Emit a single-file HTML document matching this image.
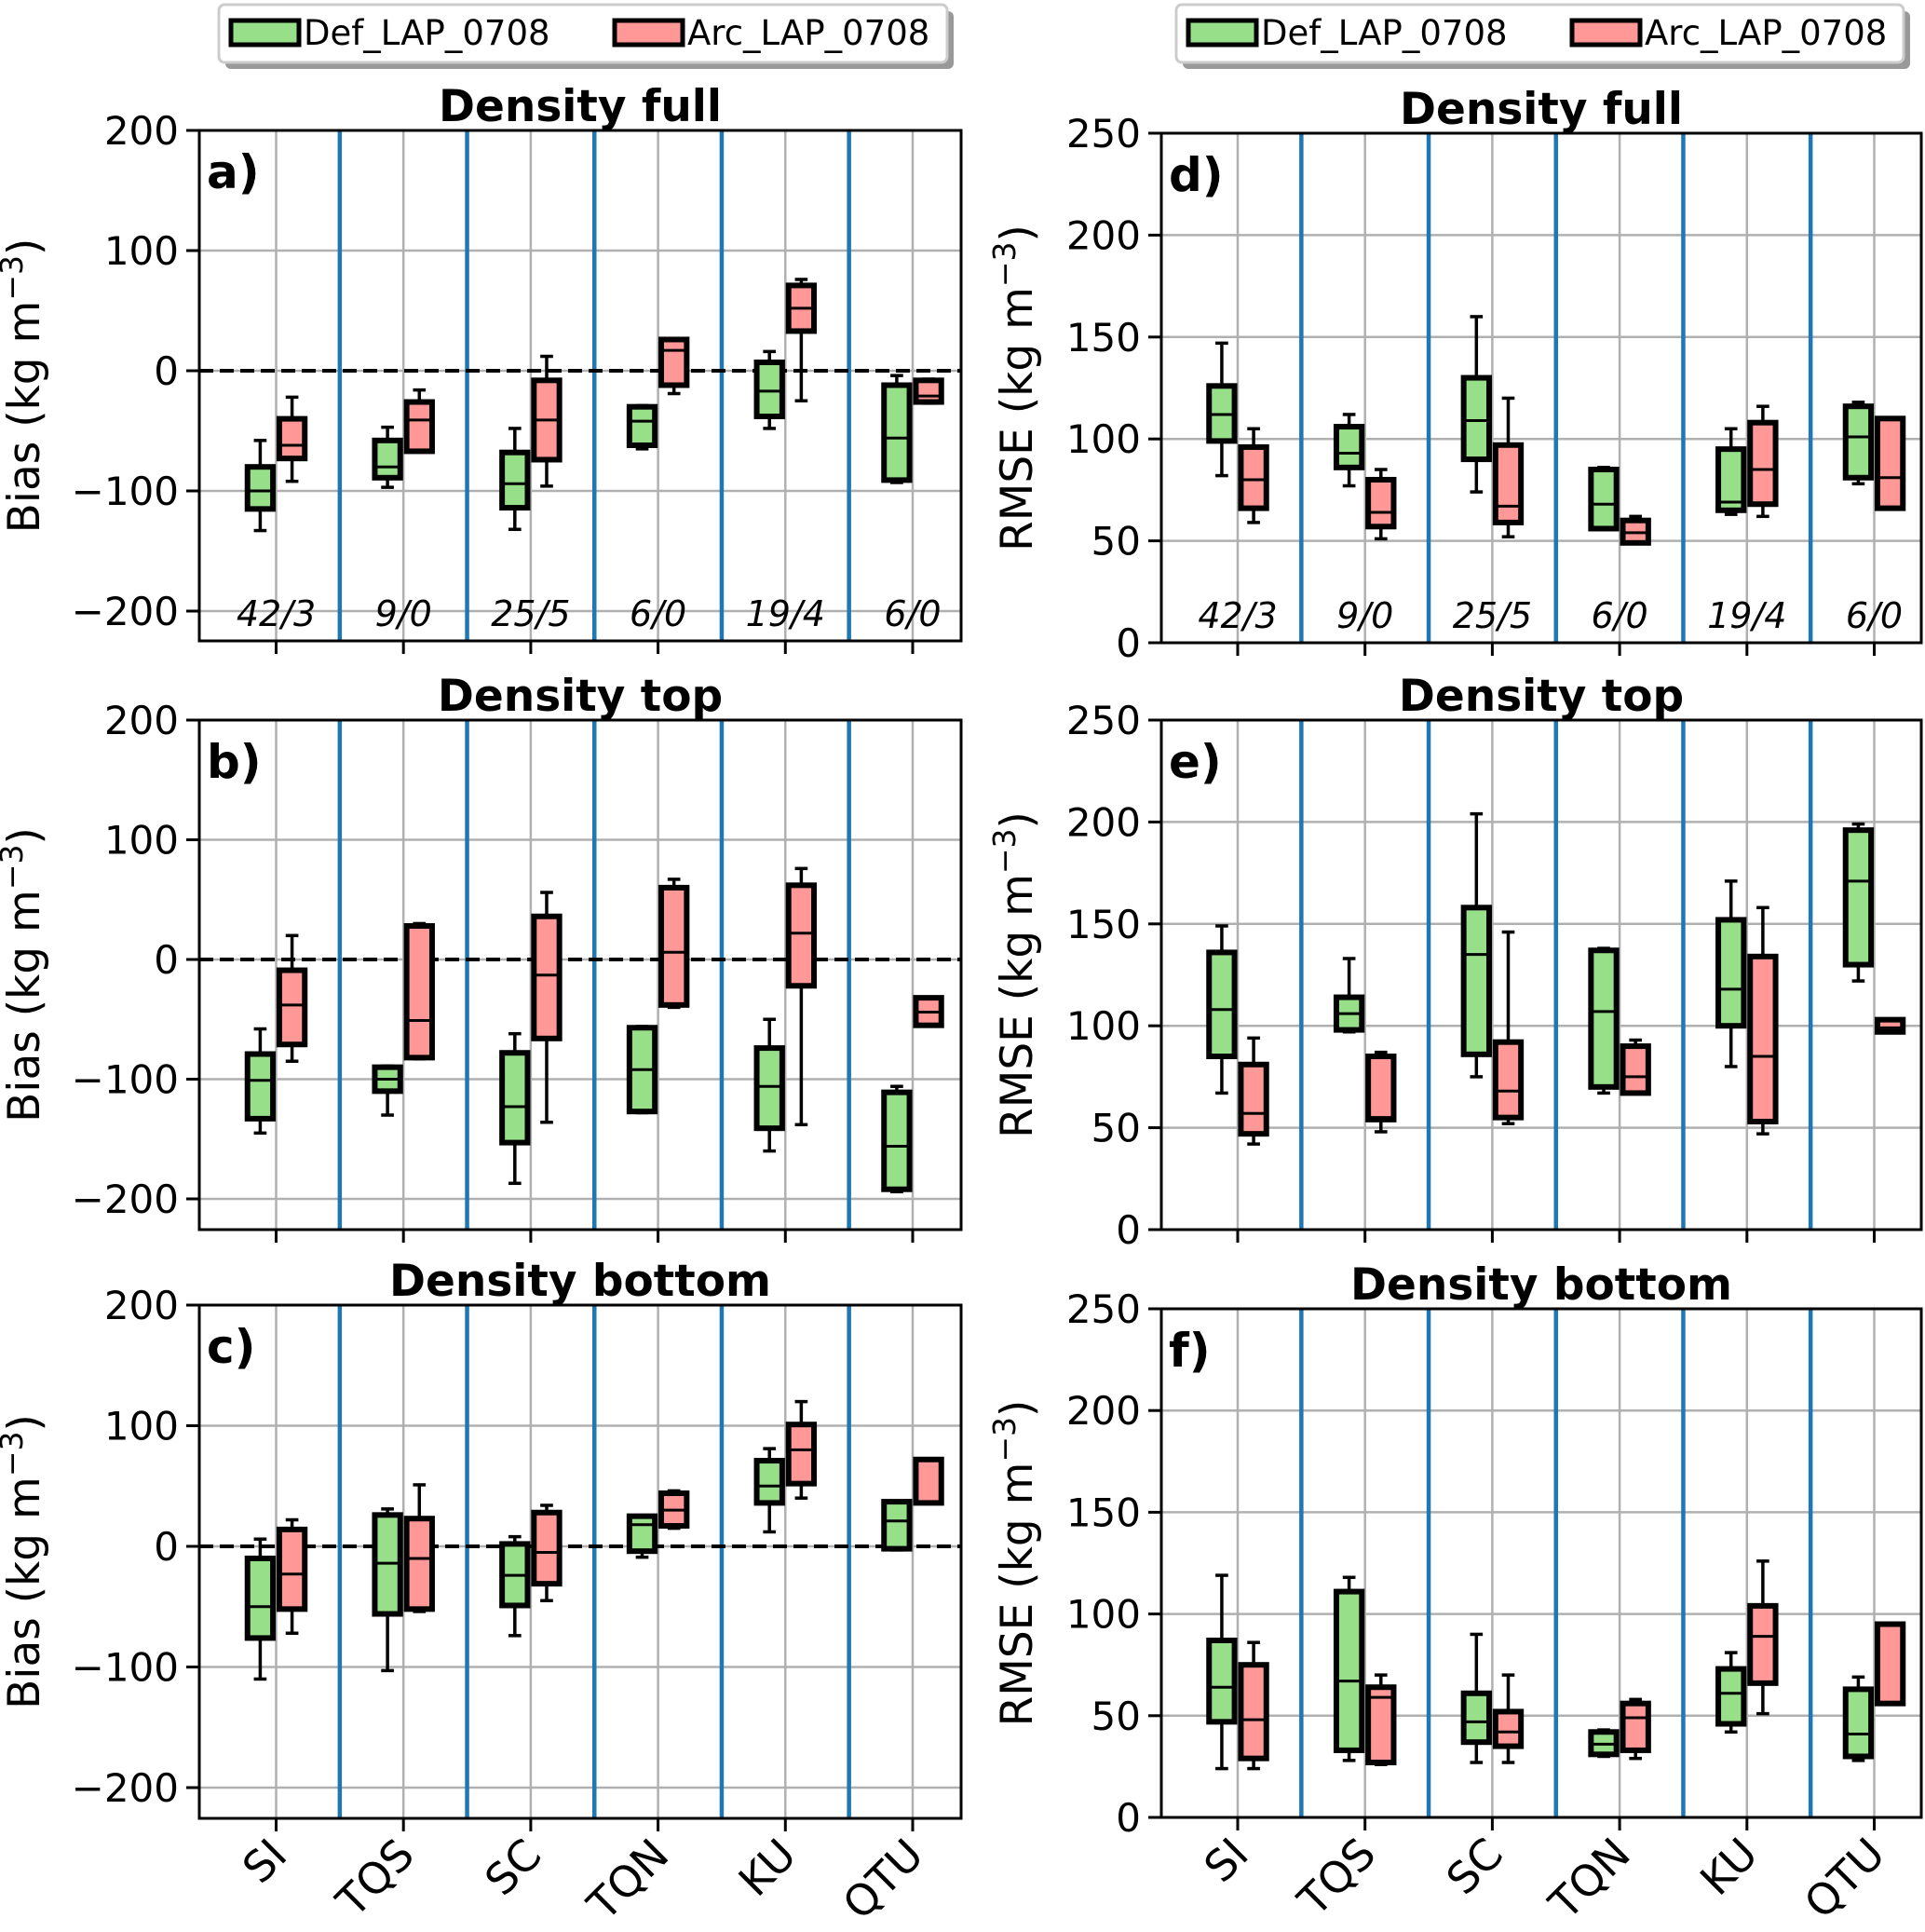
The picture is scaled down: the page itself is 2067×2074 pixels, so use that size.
<!DOCTYPE html>
<html><head><meta charset="utf-8"><style>
html,body{margin:0;padding:0;background:#fff}
svg{display:block}
text{font-family:"DejaVu Sans","Liberation Sans",sans-serif;fill:#000}
</style></head><body>
<svg id="fig" width="2067" height="2074" viewBox="0 0 2067 2074" xmlns="http://www.w3.org/2000/svg">
<g id="legends"></g>
</svg>
<script>
const categories = ["SI","TQS","SC","TQN","KU","QTU"];
const counts = ["42/3","9/0","25/5","6/0","19/4","6/0"];
const biasTicks = [-200,-100,0,100,200];
const rmseTicks = [0,50,100,150,200,250];
// each box: [whiskerLow, q1, median, q3, whiskerHigh]
const aDef = [[-133,-115,-100,-80,-58],[-97,-89,-80,-58,-47],[-132,-114,-94,-68,-48],[-65,-62,-42,-30,-29],[-48,-38,-17,7,16],[-93,-91,-56,-12,-4]];
const aArc = [[-92,-73,-62,-40,-22],[-67,-67,-41,-26,-16],[-96,-74,-41,-8,12],[-19,-12,17,26,26],[-25,33,52,71,76],[-27,-26,-21,-8,-7]];
const bDef = [[-145,-133,-101,-79,-58],[-130,-110,-100,-90,-89],[-187,-153,-123,-78,-62],[-128,-127,-92,-57,-56],[-160,-141,-106,-74,-50],[-194,-192,-156,-111,-106]];
const bArc = [[-85,-71,-38,-9,20],[-83,-82,-51,28,30],[-136,-66,-13,36,56],[-40,-38,6,60,67],[-138,-22,22,62,76],[-55,-55,-44,-32,-32]];
const cDef = [[-110,-76,-50,-10,6],[-103,-56,-14,26,31],[-74,-49,-24,2,8],[-9,-4,18,25,25],[12,36,50,71,81],[-3,-2,21,37,37]];
const cArc = [[-72,-52,-23,14,22],[-54,-52,-10,23,51],[-45,-31,-5,28,34],[15,17,30,44,46],[40,52,80,101,120],[36,36,72,72,72]];
const dDef = [[82,99,112,126,147],[77,86,93,106,112],[74,90,109,130,160],[56,56,68,85,86],[63,65,69,95,105],[78,81,101,116,118]];
const dArc = [[59,66,80,96,105],[51,57,64,80,85],[52,59,67,97,120],[49,49,54,60,62],[62,68,85,108,116],[66,66,81,110,110]];
const eDef = [[67,85,108,136,149],[97,98,106,114,133],[75,86,135,158,204],[67,70,107,137,138],[80,100,118,152,171],[122,130,171,196,199]];
const eArc = [[42,47,57,81,94],[48,54,55,85,87],[52,55,68,92,146],[67,67,75,90,93],[47,53,85,134,158],[97,97,99,103,103]];
const fDef = [[24,47,64,87,119],[28,33,67,111,118],[27,37,47,61,90],[30,31,36,42,43],[42,46,61,73,81],[28,30,41,63,69]];
const fArc = [[24,29,48,75,86],[26,27,59,64,70],[27,35,42,52,70],[29,33,49,56,58],[51,66,89,104,126],[56,56,95,95,95]];

const NS="http://www.w3.org/2000/svg";
const svg=document.getElementById('fig');
function mk(tag,attrs,parent){const e=document.createElementNS(NS,tag);for(const k in attrs)e.setAttribute(k,attrs[k]);(parent||svg).appendChild(e);return e;}

const panels=[
 {id:'a',title:'Density full',L:214,R:1032,c0:296.5,step:136.7,top:140,vTop:200,pxRef:656,vRef:-200,bottom:688,ticks:biasTicks,lab:'Bias',def:aDef,arc:aArc,counts:true,zero:true,xl:false,ylx:42},
 {id:'b',title:'Density top',L:214,R:1032,c0:296.5,step:136.7,top:773,vTop:200,pxRef:1287,vRef:-200,bottom:1320,ticks:biasTicks,lab:'Bias',def:bDef,arc:bArc,counts:false,zero:true,xl:false,ylx:42},
 {id:'c',title:'Density bottom',L:214,R:1032,c0:296.5,step:136.7,top:1401,vTop:200,pxRef:1919,vRef:-200,bottom:1952,ticks:biasTicks,lab:'Bias',def:cDef,arc:cArc,counts:false,zero:true,xl:true,ylx:42},
 {id:'d',title:'Density full',L:1247,R:2063,c0:1329,step:136.7,top:143,vTop:250,pxRef:690,vRef:0,bottom:690,ticks:rmseTicks,lab:'RMSE',def:dDef,arc:dArc,counts:true,zero:false,xl:false,ylx:1108},
 {id:'e',title:'Density top',L:1247,R:2063,c0:1329,step:136.7,top:773,vTop:250,pxRef:1320,vRef:0,bottom:1320,ticks:rmseTicks,lab:'RMSE',def:eDef,arc:eArc,counts:false,zero:false,xl:false,ylx:1108},
 {id:'f',title:'Density bottom',L:1247,R:2063,c0:1329,step:136.7,top:1405,vTop:250,pxRef:1951,vRef:0,bottom:1951,ticks:rmseTicks,lab:'RMSE',def:fDef,arc:fArc,counts:false,zero:false,xl:true,ylx:1108}
];

panels.forEach(p=>{
 const g=mk('g',{});
 
 
 const y=v=>p.top+(p.vTop-v)*(p.pxRef-p.top)/(p.vTop-p.vRef);
 const x=i=>p.c0+i*p.step;
 p.ticks.forEach(t=>{const l=mk('line',{x1:p.L,x2:p.R,y1:y(t),y2:y(t),stroke:'#b0b0b0','stroke-width':2.5},g);
  });
 categories.forEach((c,i)=>{const l=mk('line',{x1:x(i),x2:x(i),y1:p.top,y2:p.bottom,stroke:'#b0b0b0','stroke-width':2.5},g);
  });
 for(let i=0;i<categories.length-1;i++){const l=mk('line',{x1:x(i+0.5),x2:x(i+0.5),y1:p.top,y2:p.bottom,stroke:'#1f77b4','stroke-width':4.5},g);
  }
 if(p.zero){const l=mk('line',{x1:p.L,x2:p.R,y1:y(0),y2:y(0),stroke:'#000','stroke-width':4,'stroke-dasharray':'15,7'},g);
  }
 const bw=0.2*p.step;
 [[p.def,-0.125,'#98df8a','def'],[p.arc,0.125,'#ff9896','arc']].forEach(([arr,off,col,nm])=>{
  arr.forEach((b,i)=>{
   const cx=x(i+off);
   const bg=mk('g',{},g);
   
   
   mk('line',{x1:cx,x2:cx,y1:y(b[0]),y2:y(b[1]),stroke:'#000','stroke-width':3.5},bg);
   mk('line',{x1:cx,x2:cx,y1:y(b[3]),y2:y(b[4]),stroke:'#000','stroke-width':3.5},bg);
   mk('line',{x1:cx-bw/4,x2:cx+bw/4,y1:y(b[0]),y2:y(b[0]),stroke:'#000','stroke-width':3.5},bg);
   mk('line',{x1:cx-bw/4,x2:cx+bw/4,y1:y(b[4]),y2:y(b[4]),stroke:'#000','stroke-width':3.5},bg);
   mk('rect',{x:cx-bw/2,y:y(b[3]),width:bw,height:Math.max(1,y(b[1])-y(b[3])),fill:col,stroke:'#000','stroke-width':6},bg);
   mk('line',{x1:cx-bw/2,x2:cx+bw/2,y1:y(b[2]),y2:y(b[2]),stroke:'#000','stroke-width':3},bg);
  });
 });
 const fr=mk('rect',{x:p.L,y:p.top,width:p.R-p.L,height:p.bottom-p.top,fill:'none',stroke:'#000','stroke-width':3},g);
 
 p.ticks.forEach(t=>{
  mk('line',{x1:p.L-14,x2:p.L,y1:y(t),y2:y(t),stroke:'#000','stroke-width':3},g);
  const tx=mk('text',{x:p.L-22,y:y(t)+15,'text-anchor':'end','font-size':42},g);
  tx.textContent=(t<0?'\u2212'+(-t):String(t));
  
 });
 categories.forEach((c,i)=>{
  mk('line',{x1:x(i),x2:x(i),y1:p.bottom,y2:p.bottom+14,stroke:'#000','stroke-width':3},g);
  if(p.xl){const tx=mk('text',{x:0,y:0,'text-anchor':'end','font-size':46,transform:`translate(${x(i)+14},${p.bottom+42}) rotate(-45)`},g);
   tx.textContent=c;}
  if(p.counts){const tx=mk('text',{x:x(i),y:p.bottom-16,'text-anchor':'middle','font-size':38,'font-style':'italic'},g);
   tx.textContent=counts[i];}
 });
 const tt=mk('text',{x:(p.L+p.R)/2,y:p.top-10,'text-anchor':'middle','font-size':47,'font-weight':'bold'},g);
 tt.textContent=p.title;
 const pl=mk('text',{x:p.L+8,y:p.top+62,'font-size':50,'font-weight':'bold'},g);
 pl.textContent=p.id+')';
 const cy=(p.top+p.bottom)/2;
 const yl=mk('text',{x:0,y:0,'text-anchor':'middle','font-size':47,transform:`translate(${p.ylx},${cy}) rotate(-90)`},g);
 
 yl.appendChild(document.createTextNode(p.lab+' (kg m'));
 const sp=document.createElementNS(NS,'tspan');sp.setAttribute('dy','-18');sp.setAttribute('font-size','33');sp.textContent='\u22123';yl.appendChild(sp);
 const sp2=document.createElementNS(NS,'tspan');sp2.setAttribute('dy','18');sp2.textContent=')';yl.appendChild(sp2);
});

const lg=document.getElementById('legends');
[[235,1017],[1263,2044]].forEach(([x0,x1])=>{
 const g=mk('g',{},lg);
 
 
 mk('rect',{x:x0+7,y:12,width:x1-x0,height:62,rx:6,fill:'#999'},g);
 mk('rect',{x:x0,y:5,width:x1-x0,height:62,rx:6,fill:'#fff',stroke:'#ccc','stroke-width':3},g);
 const items=[['Def_LAP_0708','#98df8a',x0+13],['Arc_LAP_0708','#ff9896',x0+13+412]];
 items.forEach(([t,c,lx])=>{
  const e=mk('g',{},g);
  
  
  mk('rect',{x:lx,y:22,width:73,height:26,fill:c,stroke:'#000','stroke-width':5},e);
  const tx=mk('text',{x:lx+78,y:48,'font-size':37},e);tx.textContent=t;
 });
});
</script>
</body></html>
